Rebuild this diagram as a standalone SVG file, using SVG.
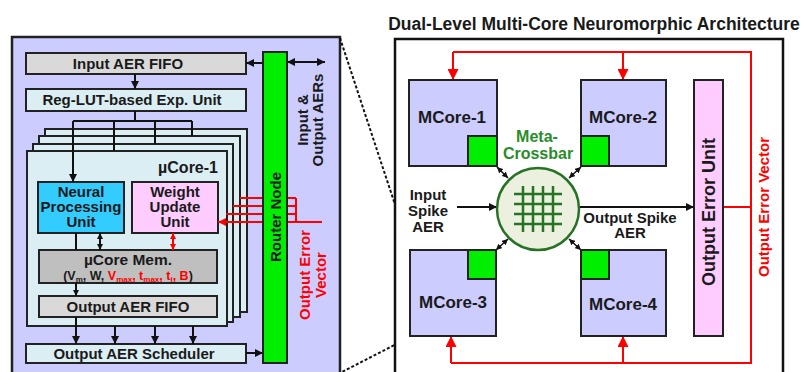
<svg xmlns="http://www.w3.org/2000/svg" width="808" height="372" viewBox="0 0 808 372">
<style>
text{font-family:"Liberation Sans",Arial,sans-serif;font-weight:bold;fill:#1a1a1a}
.box{stroke:#222;stroke-width:2}
.c15{font-size:15px}
.mid{text-anchor:middle}
.red{fill:#ff0000}
.blk{stroke:#111;stroke-width:2;fill:none}
.rl{stroke:#ff0000;stroke-width:2;fill:none}
.thin{stroke:#111;stroke-width:1.5;fill:none}
.cb{stroke:#267326;stroke-width:2.5;fill:none}
</style>
<defs>
<marker id="ah" viewBox="0 0 10 10" refX="10" refY="5" markerWidth="8" markerHeight="8" markerUnits="userSpaceOnUse" orient="auto-start-reverse"><path d="M0,0 L10,5 L0,10 z" fill="#111"/></marker>
<marker id="ahs" viewBox="0 0 10 10" refX="10" refY="5" markerWidth="6" markerHeight="6" markerUnits="userSpaceOnUse" orient="auto-start-reverse"><path d="M0,0 L10,5 L0,10 z" fill="#111"/></marker>
<marker id="ahrs" viewBox="0 0 10 10" refX="10" refY="5" markerWidth="6" markerHeight="6" markerUnits="userSpaceOnUse" orient="auto-start-reverse"><path d="M0,0 L10,5 L0,10 z" fill="#ff0000"/></marker>
<marker id="ahr" viewBox="0 0 10 10" refX="10" refY="5" markerWidth="8" markerHeight="8" markerUnits="userSpaceOnUse" orient="auto-start-reverse"><path d="M0,0 L10,5 L0,10 z" fill="#ff0000"/></marker>
<marker id="ahR" viewBox="0 0 10 10" refX="10" refY="5" markerWidth="11" markerHeight="11" markerUnits="userSpaceOnUse" orient="auto-start-reverse"><path d="M0,0 L10,5 L0,10 z" fill="#ff0000"/></marker>
</defs>

<!-- Left panel -->
<g id="left-panel">
<rect x="12" y="37" width="328" height="345" fill="#ccccff" stroke="#222" stroke-width="2.5"/>
</g>

<g id="input-aer-fifo">
<rect class="box" x="26" y="53" width="220" height="21" fill="#d9d9d9"/>
<text class="c15 mid" x="128" y="69">Input AER FIFO</text>
</g>
<g id="reg-lut">
<rect class="box" x="26" y="89" width="220" height="22" fill="#daeef3"/>
<text class="c15 mid" x="132" y="105">Reg-LUT-based Exp. Unit</text>
</g>

<g id="ucore-stack">
<rect class="box" x="45" y="129" width="202" height="183" fill="#daeef3"/>
<rect class="box" x="39" y="136" width="201" height="181" fill="#daeef3"/>
<rect class="box" x="33" y="144" width="200" height="178" fill="#daeef3"/>
<rect class="box" x="27" y="151" width="200" height="175" fill="#daeef3"/>
<text x="218" y="173" font-size="16" text-anchor="end">µCore-1</text>
</g>

<g id="npu">
<rect class="box" x="38" y="182" width="86" height="51" fill="#33ccff"/>
<text class="c15 mid" x="81" y="197">Neural<tspan x="81" dy="15">Processing</tspan><tspan x="81" dy="15">Unit</tspan></text>
</g>
<g id="wuu">
<rect class="box" x="132" y="182" width="86" height="51" fill="#ffccff"/>
<text class="c15 mid" x="175" y="197">Weight<tspan x="175" dy="15">Update</tspan><tspan x="175" dy="15">Unit</tspan></text>
</g>
<g id="ucore-mem">
<rect class="box" x="39" y="250" width="178" height="33" fill="#bfbfbf"/>
<text class="mid" x="128" y="265" font-size="15.5">µCore Mem.<tspan x="128" dy="14.5" font-size="12.5">(V</tspan><tspan font-size="8" dy="2">m</tspan><tspan font-size="12.5" dy="-2">, W, </tspan><tspan class="red" font-size="12.5">V</tspan><tspan class="red" font-size="8" dy="2">max</tspan><tspan class="red" font-size="12.5" dy="-2">, t</tspan><tspan class="red" font-size="8" dy="2">max</tspan><tspan class="red" font-size="12.5" dy="-2">, t</tspan><tspan class="red" font-size="8" dy="2">i</tspan><tspan class="red" font-size="12.5" dy="-2">, B</tspan><tspan font-size="12.5">)</tspan></text>
</g>
<g id="output-aer-fifo">
<rect class="box" x="39" y="296" width="178" height="21" fill="#d9d9d9"/>
<text class="c15 mid" x="128" y="312">Output AER FIFO</text>
</g>
<g id="scheduler">
<rect class="box" x="26" y="344" width="220" height="19" fill="#daeef3"/>
<text class="c15 mid" x="134" y="359">Output AER Scheduler</text>
</g>

<g id="left-connectors">
<line class="blk" x1="135" y1="74" x2="135" y2="89" marker-end="url(#ah)"/>
<path class="blk" d="M135 111 V121 M73 121 H192 M114 121 V151 M155 121 V144 M192 121 V136"/>
<line class="blk" x1="73" y1="121" x2="73" y2="182" marker-end="url(#ah)"/>
<line class="blk" x1="76" y1="233" x2="76" y2="250"/>
<line class="blk" x1="100" y1="233" x2="100" y2="250" marker-start="url(#ahs)" marker-end="url(#ahs)"/>
<line class="rl" x1="173" y1="233" x2="173" y2="250" marker-start="url(#ahrs)" marker-end="url(#ahrs)"/>
<line class="blk" x1="76" y1="283" x2="76" y2="296" marker-end="url(#ahs)"/>
<line class="blk" x1="76" y1="317" x2="76" y2="344" marker-end="url(#ah)"/>
<line class="blk" x1="115" y1="326" x2="115" y2="344" marker-end="url(#ah)"/>
<line class="blk" x1="155" y1="326" x2="155" y2="344" marker-end="url(#ah)"/>
<line class="blk" x1="193" y1="326" x2="193" y2="344" marker-end="url(#ah)"/>
<path class="rl" d="M240 198 H296 M233 206 H296 M226 214 H296 M296 198 V222 M322 222 H296"/>
<line class="rl" x1="296" y1="222" x2="218" y2="222" marker-end="url(#ahr)"/>
<line class="blk" x1="263" y1="63" x2="246" y2="63" marker-end="url(#ah)"/>
<line class="blk" x1="287" y1="62" x2="325" y2="62" marker-start="url(#ah)" marker-end="url(#ah)"/>
<line class="blk" x1="246" y1="353" x2="263" y2="353" marker-end="url(#ah)"/>
</g>

<g id="router-node">
<rect class="box" x="263" y="52" width="24" height="311" fill="#00ee00"/>
<text class="c15 mid" transform="translate(280.5 217) rotate(-90)">Router Node</text>
</g>

<g id="left-labels">
<text class="c15 mid" transform="translate(308 120) rotate(-90)">Input &amp;<tspan x="0" dy="15">Output AERs</tspan></text>
<text class="c15 mid red" transform="translate(310 275) rotate(-90)">Output Error<tspan x="0" dy="16">Vector</tspan></text>
</g>

<g id="zoom-lines">
<path d="M340 38 L410 250 M338 374 L410 337" stroke="#111" stroke-width="2" stroke-dasharray="3 2" fill="none"/>
</g>

<!-- Right panel -->
<text class="mid" x="594" y="30" font-size="17.5">Dual-Level Multi-Core Neuromorphic Architecture</text>
<g id="right-panel">
<rect x="395" y="39" width="388" height="345" fill="#ffffff" stroke="#111" stroke-width="2.5"/>
</g>

<g id="right-connectors">
<path class="rl" d="M453 52 H751 V363 H451 M723 207 H751"/>
<line class="rl" x1="453" y1="52" x2="453" y2="80" marker-end="url(#ahR)"/>
<line class="rl" x1="623" y1="52" x2="623" y2="80" marker-end="url(#ahR)"/>
<line class="rl" x1="451" y1="363" x2="451" y2="336" marker-end="url(#ahR)"/>
<line class="rl" x1="623" y1="363" x2="623" y2="336" marker-end="url(#ahR)"/>
<line class="thin" x1="497" y1="167" x2="508" y2="178" marker-start="url(#ahs)" marker-end="url(#ahs)"/>
<line class="thin" x1="581" y1="167" x2="569" y2="178" marker-start="url(#ahs)" marker-end="url(#ahs)"/>
<line class="thin" x1="496" y1="250" x2="508" y2="239" marker-start="url(#ahs)" marker-end="url(#ahs)"/>
<line class="thin" x1="581" y1="250" x2="569" y2="239" marker-start="url(#ahs)" marker-end="url(#ahs)"/>
<line class="blk" x1="457" y1="207" x2="497" y2="207" marker-end="url(#ah)"/>
<line class="blk" x1="579" y1="207" x2="694" y2="207" marker-end="url(#ah)"/>
</g>

<g id="mcore-1">
<rect class="box" x="409" y="80" width="88" height="86" fill="#ccccff"/>
<rect class="box" x="468" y="136" width="29" height="30" fill="#00ee00"/>
<text class="mid" x="452" y="123" font-size="17">MCore-1</text>
</g>
<g id="mcore-2">
<rect class="box" x="581" y="80" width="85" height="86" fill="#ccccff"/>
<rect class="box" x="581" y="136" width="28" height="30" fill="#00ee00"/>
<text class="mid" x="623" y="123" font-size="17">MCore-2</text>
</g>
<g id="mcore-3">
<rect class="box" x="410" y="250" width="86" height="86" fill="#ccccff"/>
<rect class="box" x="468" y="250" width="28" height="29" fill="#00ee00"/>
<text class="mid" x="453" y="308" font-size="17">MCore-3</text>
</g>
<g id="mcore-4">
<rect class="box" x="581" y="250" width="85" height="86" fill="#ccccff"/>
<rect class="box" x="581" y="250" width="28" height="29" fill="#00ee00"/>
<text class="mid" x="623" y="310" font-size="17">MCore-4</text>
</g>

<g id="meta-crossbar">
<circle cx="538" cy="209" r="41" fill="#ebf1de" stroke="#267326" stroke-width="2.5"/>
<path class="cb" d="M523 186 V232 M533 186 V232 M543 186 V232 M553 186 V232 M514 194 H562 M514 204 H562 M514 214 H562 M514 224 H562"/>
<text class="mid" x="537" y="142" font-size="16" style="fill:#2a8c2a">Meta-<tspan x="538" dy="17">Crossbar</tspan></text>
</g>

<g id="output-error-unit">
<rect class="box" x="694" y="80" width="29" height="256" fill="#ffccff"/>
<text class="mid" font-size="18" transform="translate(715 212) rotate(-90)">Output Error Unit</text>
</g>

<g id="right-labels">
<text class="c15 mid" x="428" y="200">Input<tspan x="428" dy="16">Spike</tspan><tspan x="428" dy="16">AER</tspan></text>
<text class="c15 mid" x="630" y="223">Output Spike<tspan x="630" dy="15">AER</tspan></text>
<text class="c15 mid red" transform="translate(769 207) rotate(-90)">Output Error Vector</text>
</g>
</svg>
